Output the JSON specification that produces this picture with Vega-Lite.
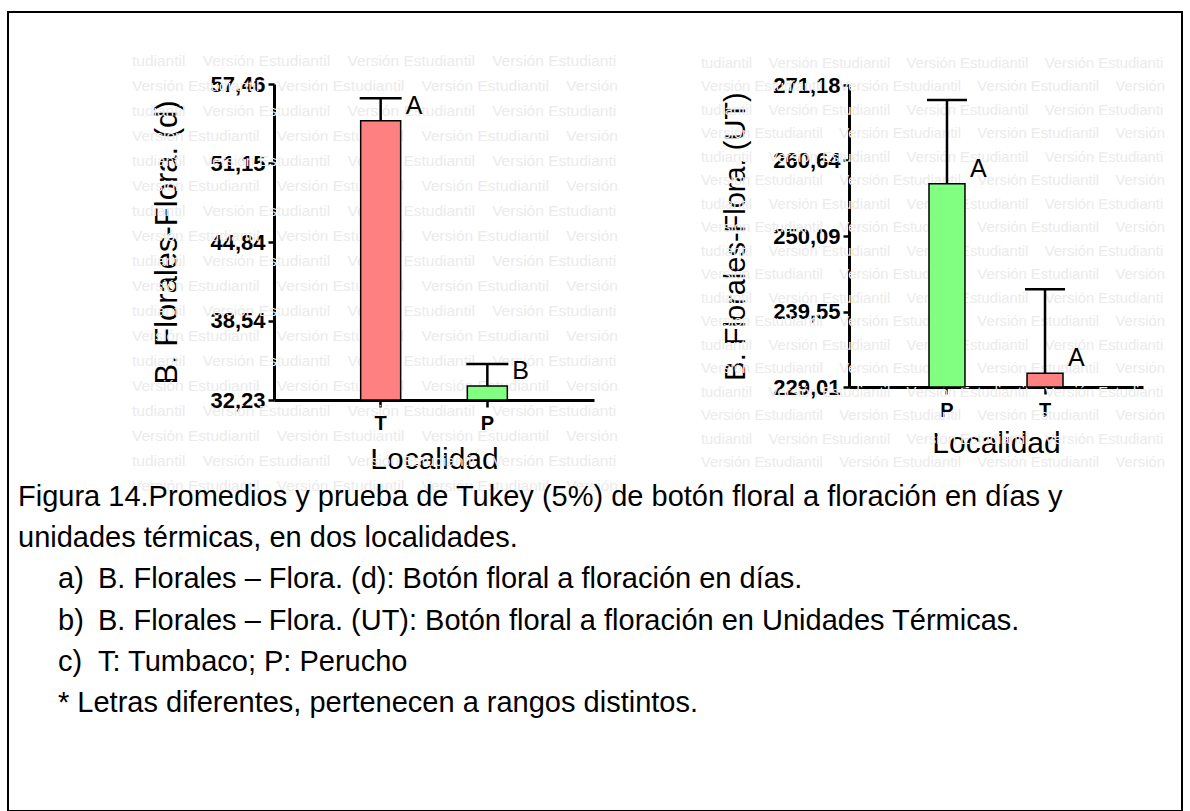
{
  "$schema": "https://vega.github.io/schema/vega-lite/v6.json",
  "width": 1174,
  "height": 799,
  "padding": {"left": 8, "top": 12, "right": 8, "bottom": 0},
  "autosize": "none",
  "background": "white",
  "config": {
    "view": {"stroke": "black", "strokeWidth": 2},
    "font": "Liberation Sans",
    "axis": {
      "grid": false,
      "domainColor": "black",
      "domainWidth": 3,
      "tickColor": "black",
      "tickWidth": 2.5,
      "labelFont": "Liberation Sans",
      "labelColor": "black",
      "labelFontWeight": "bold",
      "titleFont": "Liberation Sans",
      "titleFontWeight": "normal",
      "titleColor": "black"
    }
  },
  "datasets": {
    "left": [
      {"loc": "T", "mean": 54.53, "upper": 56.32, "letter": "A"},
      {"loc": "P", "mean": 33.35, "upper": 35.10, "letter": "B"}
    ],
    "right": [
      {"loc": "P", "mean": 257.40, "upper": 269.09, "letter": "A"},
      {"loc": "T", "mean": 230.92, "upper": 242.65, "letter": "A"}
    ],
    "wm": [
      {"row": 0, "text": "tudiantil\u00a0\u00a0\u00a0\u00a0Versión Estudiantil\u00a0\u00a0\u00a0\u00a0Versión Estudiantil\u00a0\u00a0\u00a0\u00a0Versión Estudianti"},
      {"row": 1, "text": "Versión Estudiantil\u00a0\u00a0\u00a0\u00a0Versión Estudiantil\u00a0\u00a0\u00a0\u00a0Versión Estudiantil\u00a0\u00a0\u00a0\u00a0Versión"},
      {"row": 2, "text": "tudiantil\u00a0\u00a0\u00a0\u00a0Versión Estudiantil\u00a0\u00a0\u00a0\u00a0Versión Estudiantil\u00a0\u00a0\u00a0\u00a0Versión Estudianti"},
      {"row": 3, "text": "Versión Estudiantil\u00a0\u00a0\u00a0\u00a0Versión Estudiantil\u00a0\u00a0\u00a0\u00a0Versión Estudiantil\u00a0\u00a0\u00a0\u00a0Versión"},
      {"row": 4, "text": "tudiantil\u00a0\u00a0\u00a0\u00a0Versión Estudiantil\u00a0\u00a0\u00a0\u00a0Versión Estudiantil\u00a0\u00a0\u00a0\u00a0Versión Estudianti"},
      {"row": 5, "text": "Versión Estudiantil\u00a0\u00a0\u00a0\u00a0Versión Estudiantil\u00a0\u00a0\u00a0\u00a0Versión Estudiantil\u00a0\u00a0\u00a0\u00a0Versión"},
      {"row": 6, "text": "tudiantil\u00a0\u00a0\u00a0\u00a0Versión Estudiantil\u00a0\u00a0\u00a0\u00a0Versión Estudiantil\u00a0\u00a0\u00a0\u00a0Versión Estudianti"},
      {"row": 7, "text": "Versión Estudiantil\u00a0\u00a0\u00a0\u00a0Versión Estudiantil\u00a0\u00a0\u00a0\u00a0Versión Estudiantil\u00a0\u00a0\u00a0\u00a0Versión"},
      {"row": 8, "text": "tudiantil\u00a0\u00a0\u00a0\u00a0Versión Estudiantil\u00a0\u00a0\u00a0\u00a0Versión Estudiantil\u00a0\u00a0\u00a0\u00a0Versión Estudianti"},
      {"row": 9, "text": "Versión Estudiantil\u00a0\u00a0\u00a0\u00a0Versión Estudiantil\u00a0\u00a0\u00a0\u00a0Versión Estudiantil\u00a0\u00a0\u00a0\u00a0Versión"},
      {"row": 10, "text": "tudiantil\u00a0\u00a0\u00a0\u00a0Versión Estudiantil\u00a0\u00a0\u00a0\u00a0Versión Estudiantil\u00a0\u00a0\u00a0\u00a0Versión Estudianti"},
      {"row": 11, "text": "Versión Estudiantil\u00a0\u00a0\u00a0\u00a0Versión Estudiantil\u00a0\u00a0\u00a0\u00a0Versión Estudiantil\u00a0\u00a0\u00a0\u00a0Versión"},
      {"row": 12, "text": "tudiantil\u00a0\u00a0\u00a0\u00a0Versión Estudiantil\u00a0\u00a0\u00a0\u00a0Versión Estudiantil\u00a0\u00a0\u00a0\u00a0Versión Estudianti"},
      {"row": 13, "text": "Versión Estudiantil\u00a0\u00a0\u00a0\u00a0Versión Estudiantil\u00a0\u00a0\u00a0\u00a0Versión Estudiantil\u00a0\u00a0\u00a0\u00a0Versión"},
      {"row": 14, "text": "tudiantil\u00a0\u00a0\u00a0\u00a0Versión Estudiantil\u00a0\u00a0\u00a0\u00a0Versión Estudiantil\u00a0\u00a0\u00a0\u00a0Versión Estudianti"},
      {"row": 15, "text": "Versión Estudiantil\u00a0\u00a0\u00a0\u00a0Versión Estudiantil\u00a0\u00a0\u00a0\u00a0Versión Estudiantil\u00a0\u00a0\u00a0\u00a0Versión"},
      {"row": 16, "text": "tudiantil\u00a0\u00a0\u00a0\u00a0Versión Estudiantil\u00a0\u00a0\u00a0\u00a0Versión Estudiantil\u00a0\u00a0\u00a0\u00a0Versión Estudianti"},
      {"row": 17, "text": "Versión Estudiantil\u00a0\u00a0\u00a0\u00a0Versión Estudiantil\u00a0\u00a0\u00a0\u00a0Versión Estudiantil\u00a0\u00a0\u00a0\u00a0Versión"}
    ],
    "caption": [
      {"line": 0, "col": 0, "text": "Figura 14.Promedios y prueba de Tukey (5%) de botón floral a floración en días y"},
      {"line": 1, "col": 0, "text": "unidades térmicas, en dos localidades."},
      {"line": 2, "col": 1, "text": "a)"},
      {"line": 2, "col": 2, "text": "B. Florales – Flora. (d): Botón floral a floración en días."},
      {"line": 3, "col": 1, "text": "b)"},
      {"line": 3, "col": 2, "text": "B. Florales – Flora. (UT): Botón floral a floración en Unidades Térmicas."},
      {"line": 4, "col": 1, "text": "c)"},
      {"line": 4, "col": 2, "text": "T: Tumbaco; P: Perucho"},
      {"line": 5, "col": 1, "text": "* Letras diferentes, pertenecen a rangos distintos."}
    ]
  },
  "layer": [
    {
      "data": {"name": "wm"},
      "mark": {"type": "text", "align": "left", "baseline": "middle", "fontSize": 15.5, "font": "Liberation Sans", "color": "#ebebeb"},
      "encoding": {
        "x": {"datum": 0, "type": "quantitative", "scale": {"domain": [0, 1], "range": [124, 624]}, "axis": null},
        "y": {"field": "row", "type": "quantitative", "scale": {"domain": [0, 17], "range": [49, 474]}, "axis": null},
        "text": {"field": "text"}
      }
    },
    {
      "data": {"name": "wm"},
      "mark": {"type": "text", "align": "left", "baseline": "middle", "fontSize": 14.8, "font": "Liberation Sans", "color": "#ebebeb"},
      "encoding": {
        "x": {"datum": 0, "type": "quantitative", "scale": {"domain": [0, 1], "range": [693, 1165]}, "axis": null},
        "y": {"field": "row", "type": "quantitative", "scale": {"domain": [0, 17], "range": [51.5, 451]}, "axis": null},
        "text": {"field": "text"}
      }
    },
    {
      "data": {"name": "left"},
      "encoding": {
        "x": {
          "field": "loc", "type": "nominal",
          "scale": {"domain": ["T", "P"], "range": [266, 586], "paddingInner": 0.625, "paddingOuter": 0.8125},
          "axis": {"orient": "bottom", "offset": -411, "title": "Localidad", "titleFontSize": 30, "titlePadding": 11,
                   "labelFontSize": 20, "labelAngle": 0, "tickSize": 7, "labelPadding": 6}
        },
        "y": {
          "field": "mean", "type": "quantitative",
          "title": "B. Florales-Flora. (d)",
          "scale": {"domain": [32.23, 57.46], "range": [388, 72], "zero": false, "nice": false},
          "axis": {
            "orient": "left", "offset": -266,
            "values": [32.23, 38.54, 44.84, 51.15, 57.46],
            "labelExpr": "replace(format(datum.value, '.2f'), '.', ',')",
            "labelFontSize": 22, "tickSize": 6, "labelPadding": 3,
            "titleFontSize": 31, "titlePadding": 26
          }
        }
      },
      "layer": [
        {
          "mark": {"type": "bar", "stroke": "black", "strokeWidth": 1.5},
          "encoding": {
            "y2": {"datum": 32.23},
            "color": {"field": "loc", "type": "nominal", "scale": {"domain": ["T", "P"], "range": ["#FF8080", "#80FF80"]}, "legend": null}
          }
        },
        {
          "mark": {"type": "rule", "strokeWidth": 2.5, "color": "black"},
          "encoding": {"y2": {"field": "upper"}}
        },
        {
          "mark": {"type": "tick", "size": 42, "thickness": 2.5, "color": "black", "opacity": 1},
          "encoding": {"y": {"field": "upper", "type": "quantitative", "title": "B. Florales-Flora. (d)"}}
        },
        {
          "mark": {"type": "text", "align": "left", "baseline": "alphabetic", "dx": 25, "dy": -7, "fontSize": 25, "color": "black"},
          "encoding": {"text": {"field": "letter"}}
        }
      ]
    },
    {
      "data": {"name": "right"},
      "encoding": {
        "x": {
          "field": "loc", "type": "nominal",
          "scale": {"domain": ["P", "T"], "range": [841, 1135], "paddingInner": 0.633, "paddingOuter": 0.816},
          "axis": {"orient": "bottom", "offset": -424, "title": "Localidad", "titleFontSize": 30, "titlePadding": 8,
                   "labelFontSize": 20, "labelAngle": 0, "tickSize": 7, "labelPadding": 6}
        },
        "y": {
          "field": "mean", "type": "quantitative",
          "title": "B. Florales-Flora. (UT)",
          "scale": {"domain": [229.01, 271.18], "range": [375, 73], "zero": false, "nice": false},
          "axis": {
            "orient": "left", "offset": -841,
            "values": [229.01, 239.55, 250.09, 260.64, 271.18],
            "labelExpr": "replace(format(datum.value, '.2f'), '.', ',')",
            "labelFontSize": 22, "tickSize": 6, "labelPadding": 3,
            "titleFontSize": 29, "titlePadding": 22
          }
        }
      },
      "layer": [
        {
          "mark": {"type": "bar", "stroke": "black", "strokeWidth": 1.5},
          "encoding": {
            "y2": {"datum": 229.01},
            "color": {"field": "loc", "type": "nominal", "scale": {"domain": ["T", "P"], "range": ["#FF8080", "#80FF80"]}, "legend": null}
          }
        },
        {
          "mark": {"type": "rule", "strokeWidth": 2.5, "color": "black"},
          "encoding": {"y2": {"field": "upper"}}
        },
        {
          "mark": {"type": "tick", "size": 40, "thickness": 2.5, "color": "black", "opacity": 1},
          "encoding": {"y": {"field": "upper", "type": "quantitative", "title": "B. Florales-Flora. (UT)"}}
        },
        {
          "mark": {"type": "text", "align": "left", "baseline": "alphabetic", "dx": 23, "dy": -7, "fontSize": 25, "color": "black"},
          "encoding": {"text": {"field": "letter"}}
        }
      ]
    },
    {
      "data": {"name": "caption"},
      "mark": {"type": "text", "align": "left", "baseline": "middle", "fontSize": 29, "font": "Liberation Sans", "color": "black"},
      "encoding": {
        "x": {"field": "col", "type": "ordinal", "scale": {"type": "point", "domain": [0, 1, 2], "range": [10, 90], "padding": 0}, "axis": null},
        "y": {"field": "line", "type": "ordinal", "scale": {"type": "point", "domain": [0, 1, 2, 3, 4, 5], "range": [485, 691], "padding": 0}, "axis": null},
        "text": {"field": "text"}
      }
    }
  ],
  "resolve": {
    "scale": {"x": "independent", "y": "independent"},
    "axis": {"x": "independent", "y": "independent"}
  }
}
